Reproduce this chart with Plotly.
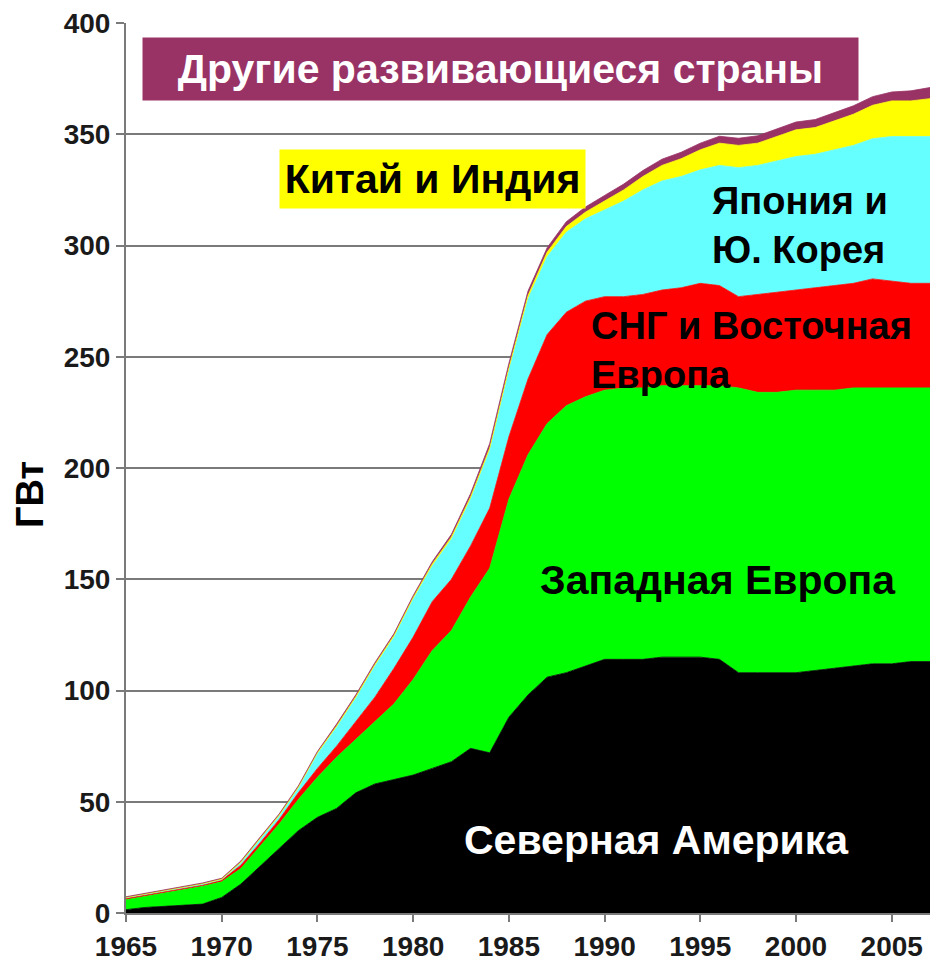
import plotly.graph_objects as go

# Installed nuclear capacity by region, GW (stacked bottom to top)
years = list(range(1965, 2008))

north_america = [1.5, 2.5, 3, 3.5, 4, 7, 13, 21, 29, 37,
                 43, 47, 54, 58, 60, 62, 65, 68, 74, 72,
                 88, 98, 106, 108, 111, 114, 114, 114, 115, 115,
                 115, 114, 108, 108, 108, 108, 109, 110, 111, 112,
                 112, 113, 113]

western_europe = [4.5, 5, 6, 7, 8, 7, 7, 9, 11, 14,
                  18, 23, 24, 28, 34, 43, 53, 59, 68, 83,
                  98, 108, 114, 120, 121, 121, 122, 122, 122, 122,
                  122, 123, 128, 126, 126, 127, 126, 125, 125, 124,
                  124, 123, 123]

cis_east_europe = [0.5, 0.5, 0.5, 0.5, 0.5, 0.8, 1.5, 1.5, 2, 3,
                   4, 5, 8, 11, 16, 19, 22, 23, 23, 27,
                   28, 34, 40, 42, 43, 42, 41, 42, 43, 44,
                   46, 45, 41, 44, 45, 45, 46, 47, 47, 49,
                   48, 47, 47]

japan_korea = [0.5, 0.5, 0.5, 0.5, 0.5, 0.2, 1, 1.5, 1.5, 2,
               6.5, 8.5, 10.5, 14, 14, 17, 16, 18, 21, 26,
               30, 36, 35, 36, 37, 39, 43, 47, 49, 50,
               51, 54, 58, 58, 59, 60, 60, 61, 62, 63,
               65, 66, 66]

china_india = [0, 0, 0, 0, 0.2, 0.3, 0.4, 0.5, 0.5, 0.6,
               0.6, 0.6, 0.7, 0.7, 0.8, 0.8, 0.9, 1, 1, 1,
               1, 1.5, 2, 2.5, 3, 4, 5, 6, 7, 8,
               9, 10, 10, 10, 11, 12, 12, 13, 14, 15,
               16, 16, 17]

other_developing = [0.3, 0.3, 0.3, 0.3, 0.3, 0.3, 0.5, 0.5, 0.5, 0.5,
                    0.5, 0.8, 0.8, 0.8, 0.8, 0.8, 1, 1.2, 1.5, 2,
                    2, 2, 2, 2.2, 2.3, 2.5, 2.6, 2.7, 2.8, 2.9,
                    3, 3.1, 3.2, 3.3, 3.4, 3.5, 3.6, 3.7, 3.8, 3.9,
                    4, 4.5, 5]

series = [
    ("Северная Америка", north_america, "#000000"),
    ("Западная Европа", western_europe, "#00FF00"),
    ("СНГ и Восточная Европа", cis_east_europe, "#FF0000"),
    ("Япония и Ю. Корея", japan_korea, "#66FFFF"),
    ("Китай и Индия", china_india, "#FFFF00"),
    ("Другие развивающиеся страны", other_developing, "#993366"),
]

y_ticks = [0, 50, 100, 150, 200, 250, 300, 350, 400]
x_ticks = [1965, 1970, 1975, 1980, 1985, 1990, 1995, 2000, 2005]

FONT = "Liberation Sans, Arial, sans-serif"
GRID = "#7a7a7a"

fig = go.Figure()
for name, values, color in series:
    fig.add_trace(go.Scatter(
        x=years, y=values, name=name, mode="lines",
        stackgroup="one", fillcolor=color,
        line=dict(color=color, width=0.8),
    ))


def bold(size, color="black"):
    return dict(family=FONT, size=size, color=color, weight="bold")


annotations = [
    dict(x=1984.54, y=379.3, text="Другие развивающиеся страны",
         font=bold(41, "white"),
         bgcolor="#993366", width=715, height=62, borderpad=0,
         xanchor="center", yanchor="middle", showarrow=False),
    dict(x=1980.99, y=329.9, text="Китай и Индия",
         font=bold(41), bgcolor="#FFFF00", width=305, height=58, borderpad=0,
         xanchor="center", yanchor="middle", showarrow=False),
    dict(x=1995.5, y=309, text="Япония и<br>Ю. Корея",
         font=bold(38), align="left",
         xanchor="left", yanchor="middle", showarrow=False),
    dict(x=1989.2, y=253, text="СНГ и Восточная<br>Европа",
         font=bold(38), align="left",
         xanchor="left", yanchor="middle", showarrow=False),
    dict(x=1995.9, y=149.7, text="Западная Европа",
         font=bold(41), xanchor="center", yanchor="middle", showarrow=False),
    dict(x=1992.7, y=32.8, text="Северная Америка",
         font=bold(41, "white"),
         xanchor="center", yanchor="middle", showarrow=False),
    dict(x=-0.1194, y=0.4697, xref="paper", yref="paper", text="ГВт",
         font=bold(38),
         textangle=-90, xanchor="center", yanchor="middle", showarrow=False),
]

fig.update_layout(
    width=930, height=971,
    margin=dict(l=126, r=0, t=23, b=58),
    paper_bgcolor="white", plot_bgcolor="white",
    showlegend=False,
    annotations=annotations,
    xaxis=dict(
        range=[1965, 2007], tickvals=x_ticks, ticktext=[str(v) for v in x_ticks],
        showgrid=False, zeroline=False,
        showline=True, linecolor=GRID, linewidth=2,
        ticks="outside", ticklen=7, tickwidth=2, tickcolor=GRID,
        tickfont=bold(28, "#1a1a1a"),
    ),
    yaxis=dict(
        range=[0, 400], tickvals=y_ticks, ticktext=[str(v) for v in y_ticks],
        showgrid=True, gridcolor=GRID, gridwidth=2, zeroline=False,
        showline=True, linecolor=GRID, linewidth=2,
        ticks="outside", ticklen=8, tickwidth=2, tickcolor=GRID,
        tickfont=bold(28, "#1a1a1a"),
    ),
)

fig.write_html("out.html")
